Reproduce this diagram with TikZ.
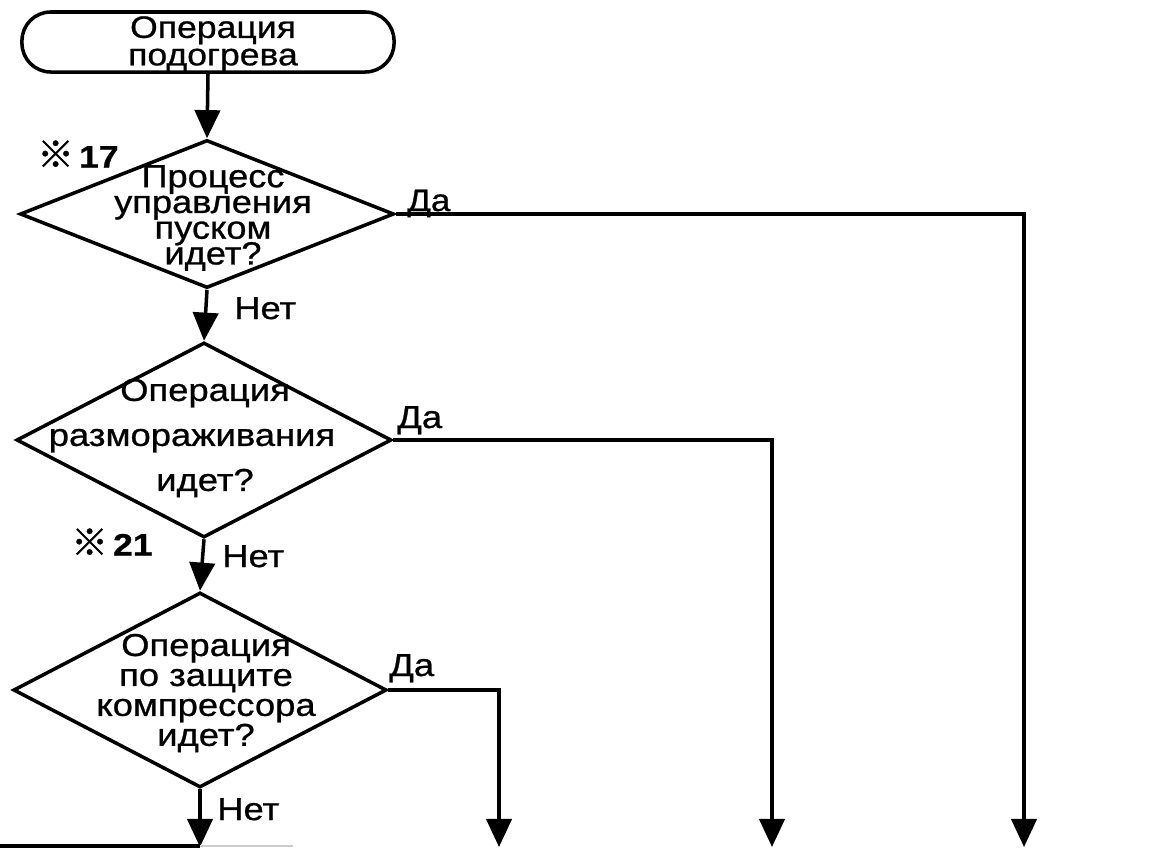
\documentclass[tikz,border=0pt]{standalone}
\usepackage{fontspec}
\setmainfont{Liberation Sans}
\newfontfamily\widesans[FakeStretch=1.15, FakeBold=0.8]{Liberation Sans}
\newfontfamily\tallsans[FakeStretch=1.13, FakeBold=0.8]{Liberation Sans}
\newfontfamily\marksans[FakeBold=1]{Noto Sans CJK JP}
\usetikzlibrary{shapes.geometric, arrows.meta, positioning, calc}

\tikzset{
    wire/.style={line width=2.5pt},
    flow/.style={wire, -{Triangle[width=18pt,length=20pt]}},
    startbox/.style={draw, line width=2.5pt, rectangle, rounded corners=0.72cm,
        minimum width=9.3cm, minimum height=1.5cm, inner sep=0pt},
    decision/.style={draw, diamond, line width=2.5pt, inner sep=0pt},
    qtext/.style={align=center, inner sep=0pt},
    answer/.style={inner sep=0pt, anchor=base west,
        font=\widesans\fontsize{22.5pt}{22pt}\selectfont},
    refnote/.style={inner sep=0pt,
        font=\widesans\bfseries\fontsize{22pt}{22pt}\selectfont}
}

\begin{document}
\begin{tikzpicture}[x=0.025cm, y=-0.025cm]
    \useasboundingbox (0,0) rectangle (1152,848);

    % Start
    \node[startbox] (start) at (208,42) {};
    \node[qtext, font={\widesans\fontsize{22pt}{19.5pt}\selectfont\lineskiplimit=-50pt}] (starttxt) at (213,44)
        {Операция\\подогрева};

    % Questions
    \node[decision, minimum width=9.35cm, minimum height=3.7cm] (q1) at (207,214) {};
    \node[qtext, font={\tallsans\fontsize{22.8pt}{18.3pt}\selectfont\lineskiplimit=-50pt}] (q1txt) at (213,218)
        {Процесс\\управления\\пуском\\идет?};

    \node[decision, minimum width=9.375cm, minimum height=4.875cm] (q2) at (204,440) {};
    \node[qtext, font=\widesans\fontsize{22.5pt}{32pt}\selectfont] (q2txt) at (205,438)
        {Операция\\\hspace*{-0.65cm}размораживания\\идет?};

    \node[decision, minimum width=9.33cm, minimum height=4.875cm] (q3) at (200,690) {};
    \node[qtext, font={\widesans\fontsize{22.5pt}{21.3pt}\selectfont\lineskiplimit=-50pt}] (q3txt) at (206,693)
        {Операция\\по защите\\компрессора\\идет?};

    % Notes
    \node[refnote] (n17) at (78,154) {{\marksans\fontsize{26pt}{26pt}\selectfont ※}\,17};
    \node[refnote] (n21) at (112,542) {{\marksans\fontsize{26pt}{26pt}\selectfont ※}\,21};

    % Ends
    \coordinate (e1) at (1024,847);
    \coordinate (e2) at (772,847);
    \coordinate (e4) at (499,847);
    \coordinate (e3) at (200,847);

    % Connectors
    \draw[flow] (start.south) -- (q1.north);
    \draw[flow] (q1.south) -- (q2.north);
    \draw[flow] (q2.south) -- (q3.north);
    \draw[flow] (q3.south) -- (e3);
    \draw[flow] (q1.east) -| (e1);
    \draw[flow] (q2.east) -| (e2);
    \draw[flow] (q3.east) -| (e4);

    % Answers
    \node[answer, font=\tallsans\fontsize{22pt}{22pt}\selectfont] (yes1) at (407,211) {Да};
    \node[answer] (no1) at (234,319) {Нет};
    \node[answer] (yes2) at (397,428) {Да};
    \node[answer] (no2) at (222,567) {Нет};
    \node[answer] (yes3) at (389,676) {Да};
    \node[answer] (no3) at (217,820) {Нет};

    % Cut edge
    \draw[wire] (0,846) -- (200,846);
    \draw[wire, gray!40, line width=1.5pt] (200,846) -- (293,846);
\end{tikzpicture}
\end{document}
